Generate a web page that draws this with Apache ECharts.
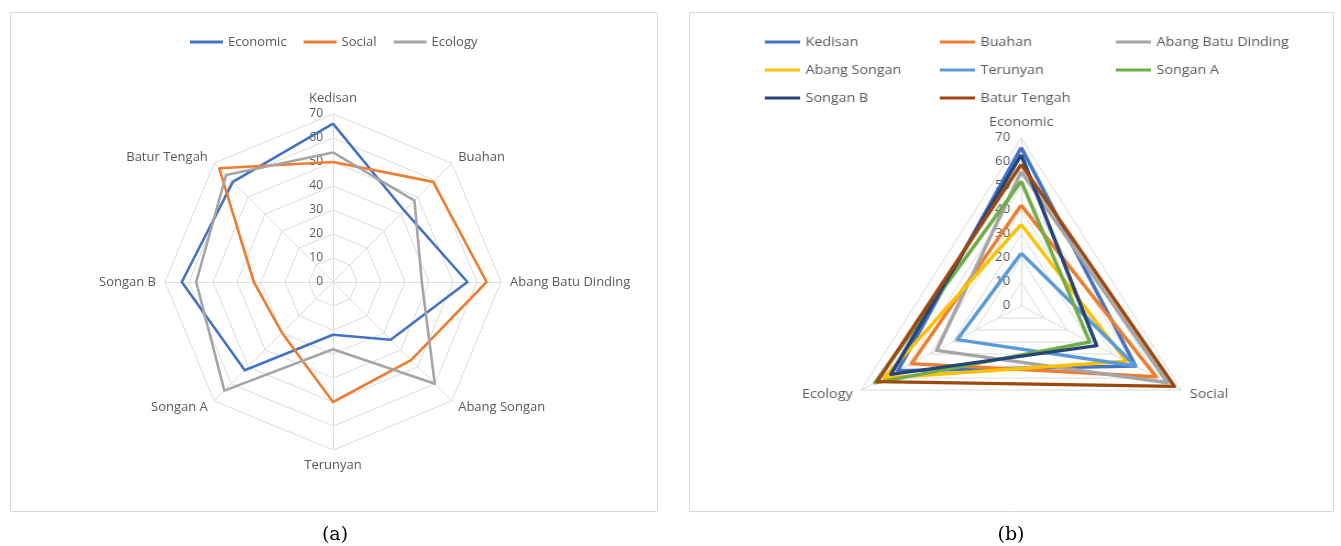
<!DOCTYPE html>
<html><head><meta charset="utf-8">
<script src="https://cdn.jsdelivr.net/npm/echarts@6/dist/echarts.min.js"></script>
<style>
html,body{margin:0;padding:0;background:#fff;overflow:hidden;}
#main{position:absolute;left:0;top:0;width:1341px;height:546px;}
#right{position:absolute;left:689px;top:0;width:585px;height:546px;transform:scaleX(1.1);transform-origin:0 0;}
</style></head><body>
<div id="main"></div><div id="right"></div>
<script>
// ---- data ----
const villages = ['Kedisan', 'Buahan', 'Abang Batu Dinding', 'Abang Songan', 'Terunyan', 'Songan A', 'Songan B', 'Batur Tengah'];
const dimensions = ['Economic', 'Social', 'Ecology'];
const economic = [66, 42, 56, 34, 22, 52, 63, 59];
const social   = [50, 59, 64, 46, 50, 30, 33, 67];
const ecology  = [54, 48, 37, 60, 28, 64, 57, 63];
const axisMax = 70;
const axisSplits = 7;

// ---- style ----
const FONT = '"Open Sans", "Noto Sans", sans-serif';
const TXT = '#595959';
const GRID = '#DCDCDC';
const dimColors = ['#4472C4', '#ED7D31', '#A5A5A5'];
const villageColors = ['#4472C4', '#ED7D31', '#A5A5A5', '#FFC000', '#5B9BD5', '#70AD47', '#264478', '#9E480E'];

// ECharts radar runs counter-clockwise; reorder to show clockwise like Excel
function clockwiseOrder(n) { const o = [0]; for (let i = n - 1; i >= 1; i--) o.push(i); return o; }

function radarCfg(names, center, radius) {
  return {
    center: center, radius: radius, startAngle: 90, shape: 'polygon', splitNumber: axisSplits,
    indicator: names.map((nm, k) => {
      const ind = { name: nm, min: 0, max: axisMax };
      if (k === 0) ind.axisLabel = { show: true, color: TXT, fontSize: 12, fontFamily: FONT, margin: 10, showMinLabel: true };
      return ind;
    }),
    axisName: { color: TXT, fontSize: 13, fontFamily: FONT },
    nameGap: 9,
    axisLine: { lineStyle: { color: GRID, width: 1 } },
    splitLine: { lineStyle: { color: GRID, width: 1 } },
    splitArea: { show: false },
    axisTick: { show: false },
    axisLabel: { show: false }
  };
}

// ---- left chart (a) ----
const orderA = clockwiseOrder(villages.length);
const namesA = orderA.map(i => villages[i]);
const dimData = [economic, social, ecology];
const seriesA = dimensions.map((d, k) => ({
  type: 'radar', radarIndex: 0, name: d, symbol: 'none',
  lineStyle: { color: dimColors[k], width: 2.6 },
  itemStyle: { color: dimColors[k] },
  data: [{ name: d, value: orderA.map(i => dimData[k][i]) }]
}));

const main = echarts.init(document.getElementById('main'), null, { renderer: 'canvas' });
main.setOption({
  animation: false,
  backgroundColor: '#fff',
  legend: {
    data: dimensions, left: 185, top: 30, itemGap: 17,
    itemWidth: 33, itemHeight: 3, icon: 'rect',
    textStyle: { color: TXT, fontSize: 13, fontFamily: FONT, lineHeight: 14 }
  },
  radar: [radarCfg(namesA, [333, 282], 168)],
  series: seriesA,
  graphic: [
    { type: 'rect', silent: true, z: -1, shape: { x: 10.5, y: 12.5, width: 647, height: 499 }, style: { fill: 'none', stroke: '#D9D9D9', lineWidth: 1 } },
    { type: 'rect', silent: true, z: -1, shape: { x: 689.5, y: 12.5, width: 644, height: 499 }, style: { fill: 'none', stroke: '#D9D9D9', lineWidth: 1 } },
    { type: 'text', silent: true, style: { text: '(a)', x: 335, y: 535, textAlign: 'center', textVerticalAlign: 'middle', fill: '#000', font: '19px "DejaVu Serif", serif' } },
    { type: 'text', silent: true, style: { text: '(b)', x: 1011, y: 535, textAlign: 'center', textVerticalAlign: 'middle', fill: '#000', font: '19px "DejaVu Serif", serif' } }
  ]
});

// ---- right chart (b) ----
// counter-clockwise from top: Economic, Ecology, Social
const dimOrderB = [0, 2, 1];
const namesB = dimOrderB.map(i => dimensions[i]);
const seriesB = villages.map((v, j) => ({
  type: 'radar', radarIndex: 0, name: v, symbol: 'none',
  lineStyle: { color: villageColors[j], width: 3.4 },
  itemStyle: { color: villageColors[j] },
  data: [{ name: v, value: dimOrderB.map(i => dimData[i][j]) }]
}));
const legendCols = [[0, 3, 6], [1, 4, 7], [2, 5]];
const colX = [64, 223, 383];
const right = echarts.init(document.getElementById('right'), null, { renderer: 'canvas' });
right.setOption({
  animation: false,
  legend: legendCols.map((col, c) => ({
    data: col.map(j => villages[j]), orient: 'vertical', left: colX[c], top: 30,
    itemGap: 14, itemWidth: 32, itemHeight: 3, icon: 'rect',
    textStyle: { color: TXT, fontSize: 13, fontFamily: FONT, lineHeight: 14 }
  })),
  radar: [radarCfg(namesB, [302, 306], 168)],
  series: seriesB
});
</script>
</body></html>
